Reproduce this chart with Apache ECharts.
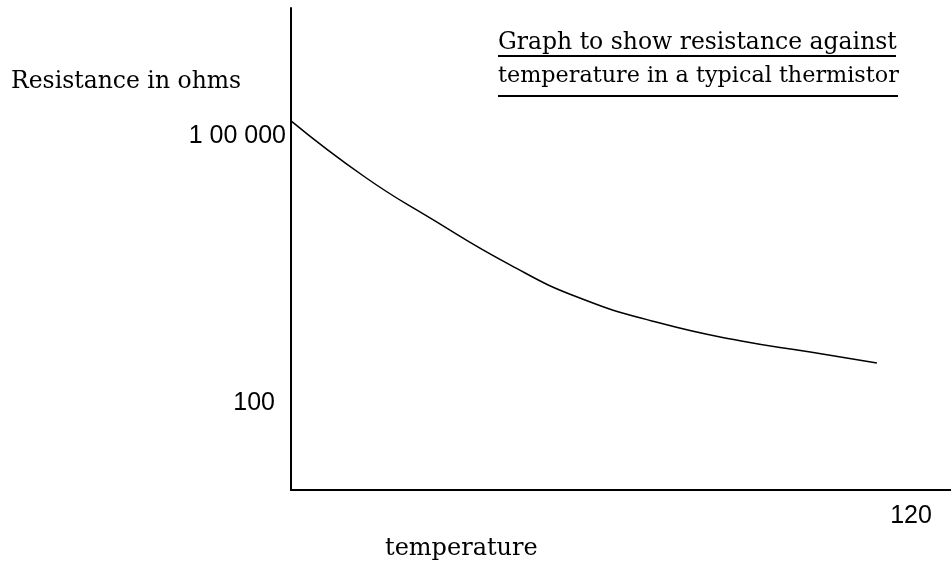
<!DOCTYPE html>
<html lang="en">
<head>
    <meta charset="UTF-8">
    <title>Thermistor</title>
    <style>
        html, body { margin: 0; padding: 0; background: #fff; }
    </style>
</head>
<body>
<div id="chartBox" style="width: 951px;height: 562px;"></div>
<script type="text/javascript" src="https://cdn.jsdelivr.net/npm/echarts@6/dist/echarts.min.js"></script>
<script type="text/javascript">
    // temperature values (x) and resistance in ohms (y)
    var temperature = [0, 14.3, 26.9, 42.4, 55.9, 71.4, 86.9, 100.5, 113.4];
    var resistance = [148000, 34600, 12000, 3560, 1510, 790, 500, 375, 281];
    var yTickLabels = { 100: '100', 100000: '1 00 000' };
    var xTickLabels = { 120: '120' };

    var points = temperature.map(function (t, i) { return [t, resistance[i]]; });

    var serif = 'DejaVu Serif';
    var sans = 'Liberation Sans';

    var myChart = echarts.init(document.getElementById('chartBox'));
    myChart.setOption({
        backgroundColor: '#fff',
        animation: false,
        title: [{
            text: 'Graph to show resistance against',
            left: 498,
            top: 31,
            padding: 0,
            textStyle: { fontFamily: serif, fontSize: 23.5, fontWeight: 'normal', color: '#000' }
        }, {
            text: 'temperature in a typical thermistor',
            left: 498,
            top: 65,
            padding: 0,
            textStyle: { fontFamily: serif, fontSize: 22.3, fontWeight: 'normal', color: '#000' }
        }, {
            text: 'Resistance in ohms',
            left: 11,
            top: 70,
            padding: 0,
            textStyle: { fontFamily: serif, fontSize: 23.5, fontWeight: 'normal', color: '#000' }
        }, {
            text: 'temperature',
            left: 385,
            top: 537,
            padding: 0,
            textStyle: { fontFamily: serif, fontSize: 24, fontWeight: 'normal', color: '#000' }
        }],
        graphic: [
            // underline of the two title lines
            { type: 'line', shape: { x1: 498, y1: 56, x2: 896, y2: 56 }, style: { stroke: '#000', lineWidth: 2 } },
            { type: 'line', shape: { x1: 498, y1: 96, x2: 898, y2: 96 }, style: { stroke: '#000', lineWidth: 2 } }
        ],
        grid: { left: 291, right: 0, top: 8, bottom: 72, containLabel: false },
        xAxis: {
            type: 'value',
            min: 0,
            max: 127.74,
            interval: 20,
            axisLine: { lineStyle: { color: '#000', width: 2 } },
            axisTick: { show: false },
            splitLine: { show: false },
            axisLabel: {
                margin: 14,
                fontFamily: sans,
                fontSize: 25,
                color: '#000',
                showMaxLabel: false,
                formatter: function (v) { return xTickLabels[v] || ''; }
            }
        },
        yAxis: {
            type: 'log',
            logBase: 10,
            min: 10.53,
            max: 2740000,
            axisLine: { show: true, lineStyle: { color: '#000', width: 2 } },
            axisTick: { show: false },
            splitLine: { show: false },
            axisLabel: {
                margin: 5,
                fontFamily: sans,
                fontSize: 25,
                color: '#000',
                formatter: function (v) {
                    var r = Math.round(v);
                    if (r === 100) return '{p|' + yTickLabels[r] + '}';
                    return yTickLabels[r] || '';
                },
                rich: { p: { fontFamily: sans, fontSize: 25, color: '#000', padding: [0, 11, 0, 0] } }
            }
        },
        series: [{
            type: 'line',
            data: points,
            smooth: true,
            showSymbol: false,
            lineStyle: { color: '#000', width: 1.5 }
        }]
    });
</script>
</body>
</html>
